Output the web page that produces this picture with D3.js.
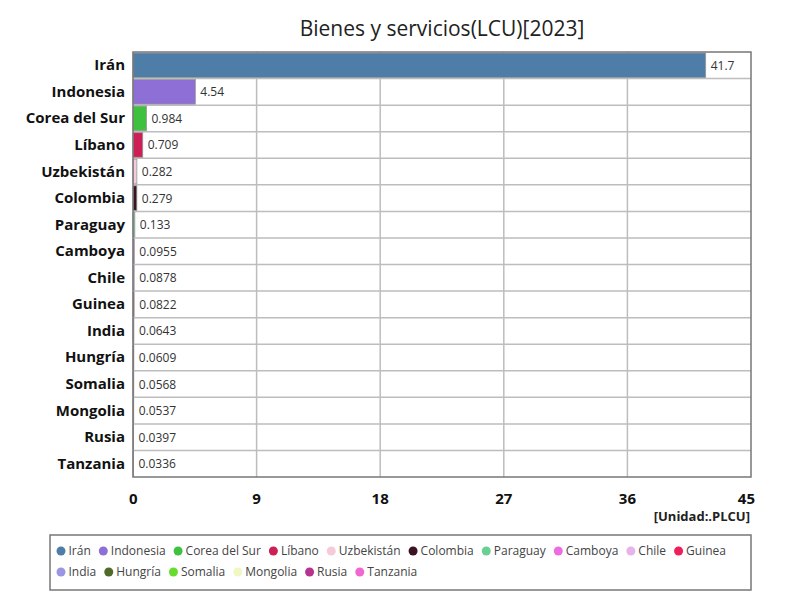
<!DOCTYPE html>
<html><head><meta charset="utf-8">
<script src="https://cdn.jsdelivr.net/npm/d3@7/dist/d3.min.js"></script>
<style>body{margin:0;background:#fff}svg{display:block}</style>
</head><body>
<svg id="c" width="800" height="600"></svg>
<script>
const categories = ["Irán","Indonesia","Corea del Sur","Líbano","Uzbekistán","Colombia","Paraguay","Camboya","Chile","Guinea","India","Hungría","Somalia","Mongolia","Rusia","Tanzania"];
const values = [41.7,4.54,0.984,0.709,0.282,0.279,0.133,0.0955,0.0878,0.0822,0.0643,0.0609,0.0568,0.0537,0.0397,0.0336];
const colors = ["#4e7ea8","#8e6fd6","#3fc13f","#cc1f55","#f6cad8","#3a1422","#6ccf92","#ec6de0","#e6b3ea","#ee1f5a","#9b96e3","#4e6b2a","#66dd2e","#f1f7c4","#b8338e","#f266d2"];
const xTicks = [0,9,18,27,36,45];
const title = "Bienes y servicios(LCU)[2023]";
const unit = "[Unidad:.PLCU]";

const svg = d3.select("#c");
const font = "'Open Sans', 'Noto Sans', sans-serif";
const m = {l:133, r:751, t:52, b:477};
const x = d3.scaleLinear().domain([0,45]).range([m.l, m.r]);
const y = d3.scaleBand().domain(categories).range([m.t, m.b]);

svg.append("text").attr("x",(m.l+m.r)/2).attr("y",36).attr("text-anchor","middle")
  .attr("font-family",font).attr("font-size",21).attr("fill","#222").text(title);

// grid
const g = svg.append("g");
g.selectAll(".vg").data(xTicks.slice(1,-1)).join("line")
  .attr("x1",d=>x(d)).attr("x2",d=>x(d)).attr("y1",m.t).attr("y2",m.b)
  .attr("stroke","#bdbdbd").attr("stroke-width",1.5);
g.selectAll(".hg").data(categories.slice(1)).join("line")
  .attr("x1",m.l).attr("x2",m.r).attr("y1",d=>y(d)).attr("y2",d=>y(d))
  .attr("stroke","#bdbdbd").attr("stroke-width",1.5);

// bars
svg.append("g").selectAll("rect").data(categories).join("rect")
  .attr("x",x(0)).attr("y",d=>y(d)+1)
  .attr("width",(d,i)=>Math.max(0,x(values[i])-x(0)))
  .attr("height",y.bandwidth()-2)
  .attr("fill",(d,i)=>colors[i]).attr("stroke","#999").attr("stroke-width",0.8);

// value labels
svg.append("g").selectAll("text").data(categories).join("text")
  .attr("x",(d,i)=>x(values[i])+5).attr("y",d=>y(d)+y.bandwidth()/2+4.5)
  .attr("font-family",font).attr("font-size",12).attr("fill","#333")
  .text((d,i)=>values[i]);

// frame
svg.append("rect").attr("x",m.l).attr("y",m.t).attr("width",m.r-m.l).attr("height",m.b-m.t)
  .attr("fill","none").attr("stroke","#777").attr("stroke-width",1.5);

// y labels
svg.append("g").selectAll("text").data(categories).join("text")
  .attr("x",125).attr("y",d=>y(d)+y.bandwidth()/2+5)
  .attr("text-anchor","end").attr("font-family",font).attr("font-weight","bold")
  .attr("font-size",15).attr("fill","#111").text(d=>d);

// x axis ticks
svg.append("g").selectAll("text").data(xTicks).join("text")
  .attr("x",d=>x(d)).attr("y",504).attr("text-anchor",(d,i)=>i===xTicks.length-1?"end":(i===0?"start":"middle"))
  .attr("dx",(d,i)=>i===0?-4:(i===xTicks.length-1?4:0))
  .attr("font-family",font).attr("font-weight","bold").attr("font-size",15).attr("fill","#111").text(d=>d);

svg.append("text").attr("x",750).attr("y",521).attr("text-anchor","end")
  .attr("font-family",font).attr("font-weight","bold").attr("font-size",13).attr("fill","#222").text(unit);

// legend
svg.append("rect").attr("x",50).attr("y",535).attr("width",701).attr("height",55)
  .attr("fill","#fff").attr("stroke","#777").attr("stroke-width",1.5);
const lg = svg.append("g");
let lx = 61, ly = 551;
categories.forEach((c,i)=>{
  const t = lg.append("text").attr("x",lx+7.5).attr("y",ly+4).attr("font-family",font)
    .attr("font-size",12).attr("fill","#444").text(c);
  let w = t.node().getComputedTextLength();
  if (lx+7.5+w > 745) { lx = 61; ly += 21; t.attr("x",lx+7.5).attr("y",ly+4); }
  lg.append("circle").attr("cx",lx).attr("cy",ly).attr("r",4.5).attr("fill",colors[i]);
  lx += 7.5 + w + 12.5;
});
</script>
</body></html>
